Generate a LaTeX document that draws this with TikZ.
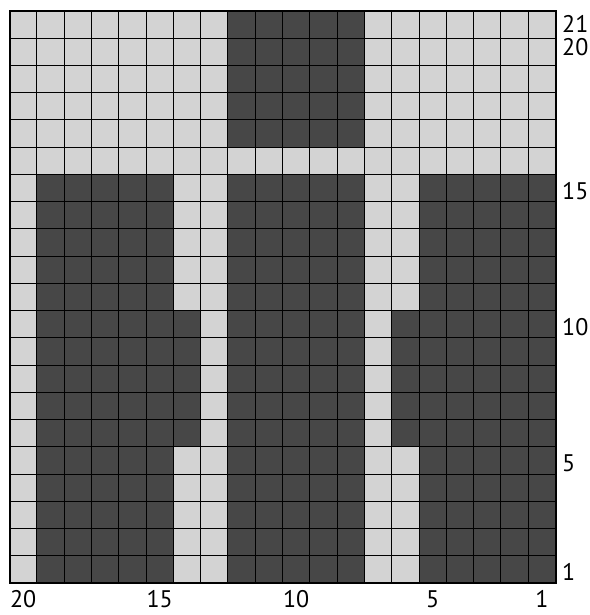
\documentclass[tikz,border=0pt]{standalone}
\usepackage{fontspec}
\setmainfont{PT Sans}
\definecolor{lightc}{HTML}{D3D3D3}
\definecolor{darkc}{HTML}{474747}
\tikzset{
  lbl/.style={inner sep=0pt, font=\fontsize{24}{24}\selectfont},
  gridline/.style={black, line width=1pt},
  border/.style={black, line width=2pt}
}
\begin{document}
\begin{tikzpicture}[x=1pt,y=-1pt]
\useasboundingbox (0,0) rectangle (589,615);
\def\L{9.5}\def\T{11}\def\W{27.3}\def\H{27.24}
% light background
\fill[lightc] (\L,\T) rectangle ({\L+20*\W},{\T+21*\H});
% dark regions
\fill[darkc] ({\L+8*\W},\T) rectangle ({\L+13*\W},{\T+5*\H});
\fill[darkc] ({\L+1*\W},{\T+6*\H}) rectangle ({\L+6*\W},{\T+21*\H});
\fill[darkc] ({\L+8*\W},{\T+6*\H}) rectangle ({\L+13*\W},{\T+21*\H});
\fill[darkc] ({\L+15*\W},{\T+6*\H}) rectangle ({\L+20*\W},{\T+21*\H});
\fill[darkc] ({\L+6*\W},{\T+11*\H}) rectangle ({\L+7*\W},{\T+16*\H});
\fill[darkc] ({\L+14*\W},{\T+11*\H}) rectangle ({\L+15*\W},{\T+16*\H});
% grid
\foreach \i in {1,...,19}
  \draw[gridline] ({\L+\i*\W},\T) -- ({\L+\i*\W},{\T+21*\H});
\foreach \j in {1,...,20}
  \draw[gridline] (\L,{\T+\j*\H}) -- ({\L+20*\W},{\T+\j*\H});
\draw[border] (\L,\T) rectangle ({\L+20*\W},{\T+21*\H});
% row labels
\node[lbl, anchor=base west] (r21) at (562,33) {21};
\node[lbl, anchor=base west] (r20) at (562,56) {20};
\node[lbl, anchor=base west] (r15) at (562,199) {15};
\node[lbl, anchor=base west] (r10) at (562,335) {10};
\node[lbl, anchor=base west] (r5) at (562,471) {5};
\node[lbl, anchor=base west] (r1) at (562,580) {1};
% column labels
\node[lbl, anchor=base] (c20) at ({\L+0.5*\W},607) {20};
\node[lbl, anchor=base] (c15) at ({\L+5.5*\W},607) {15};
\node[lbl, anchor=base] (c10) at ({\L+10.5*\W},607) {10};
\node[lbl, anchor=base] (c5) at ({\L+15.5*\W},607) {5};
\node[lbl, anchor=base] (c1) at ({\L+19.5*\W},607) {1};
\end{tikzpicture}
\end{document}
